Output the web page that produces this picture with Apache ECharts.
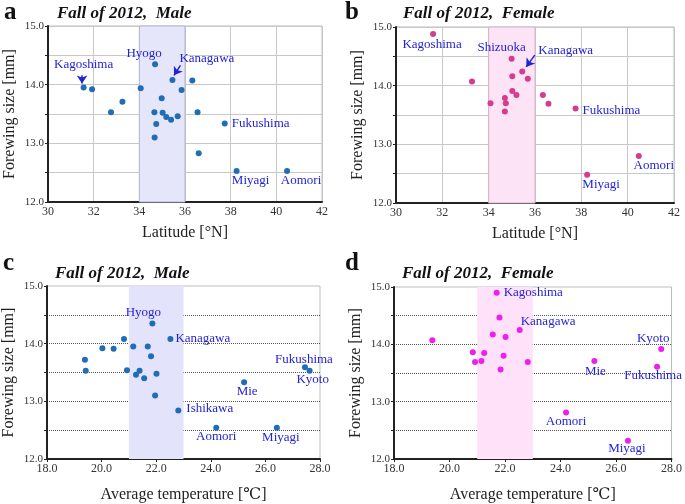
<!DOCTYPE html>
<html><head><meta charset="utf-8">
<script src="https://cdn.jsdelivr.net/npm/echarts@6/dist/echarts.min.js"></script>
<style>html,body{margin:0;padding:0;background:#fff}#c{width:685px;height:504px}</style>
</head><body><div id="c"></div>
<script>
// ---- data ----
const latTicksX = [30, 32, 34, 36, 38, 40, 42];
const tempTicksX = [18, 20, 22, 24, 26, 28];
const sizeTicksY = [12, 13, 14, 15];

const maleLatitude = [[31.56,13.95],[31.93,13.92],[32.76,13.53],[33.26,13.71],[34.06,13.94],[34.69,14.35],[34.66,13.53],[34.74,13.33],[34.67,13.10],[34.98,13.77],[35.02,13.52],[35.18,13.45],[35.39,13.40],[35.68,13.46],[35.45,14.08],[35.85,13.91],[36.32,14.07],[36.55,13.53],[36.60,12.83],[37.74,13.34],[38.26,12.53],[40.47,12.53]];
const maleLatitudeNames = ['Kagoshima','','','','','Hyogo','','','','','','','','','Kanagawa','','','','','Fukushima','Miyagi','Aomori'];

const femaleLatitude = [[31.60,14.88],[33.28,14.07],[34.08,13.70],[34.70,13.79],[34.74,13.70],[34.70,13.56],[34.99,14.46],[35.02,13.91],[35.20,13.84],[35.02,14.16],[35.45,14.24],[35.69,14.12],[36.34,13.84],[36.58,13.69],[37.75,13.61],[38.25,12.48],[40.48,12.80]];
const femaleLatitudeNames = ['Kagoshima','','','','','','Shizuoka','','','','Kanagawa','','','','Fukushima','Miyagi','Aomori'];

const maleTemperature = [[19.39,13.72],[19.42,13.53],[20.03,13.92],[20.44,13.91],[20.82,14.08],[20.93,13.54],[21.16,13.95],[21.26,13.46],[21.39,13.53],[21.56,13.40],[21.69,13.95],[21.81,13.78],[21.86,14.35],[21.96,13.10],[22.01,13.48],[22.52,14.08],[22.81,12.84],[24.20,12.54],[25.22,13.33],[26.42,12.54],[27.45,13.59],[27.62,13.53]];
const maleTemperatureNames = ['','','','','','','','','','','','','Hyogo','','','Kanagawa','Ishikawa','Aomori','Mie','Miyagi','Fukushima','Kyoto'];

const femaleTemperature = [[19.38,14.07],[20.84,13.86],[20.92,13.69],[21.15,13.71],[21.25,13.85],[21.56,14.17],[21.70,14.90],[21.80,14.47],[21.84,13.56],[21.95,13.80],[22.02,14.13],[22.53,14.25],[22.82,13.69],[24.20,12.81],[25.22,13.71],[26.43,12.32],[27.48,13.61],[27.63,13.92]];
const femaleTemperatureNames = ['','','','','','','Kagoshima','','','','','Kanagawa','','Aomori','Mie','Miyagi','Fukushima','Kyoto'];

const latitudeBand = [34, 36];
const temperatureBand = [21, 23];

const arrowsMaleLatitude = [[[31.49,14.16],[31.49,14.02]],[[35.80,14.33],[35.52,14.16]]];
const arrowsFemaleLatitude = [[[35.99,14.52],[35.62,14.32]]];

// ---- styles ----
const SERIF = '"Liberation Serif","DejaVu Serif",serif';
const LBL = '#2323d6';
const labelPos = {
  a: {Kagoshima:[0,-23,'center'], Hyogo:[-11,-11,'center'], Kanagawa:[7,-21,'left'], Fukushima:[7,0,'left'], Miyagi:[14,10,'center'], Aomori:[14,10,'center']},
  b: {Kagoshima:[-1,11,'center'], Shizuoka:[-10,-11,'center'], Kanagawa:[16,-21,'left'], Fukushima:[7,2,'left'], Miyagi:[14,10,'center'], Aomori:[15,10,'center']},
  c: {Hyogo:[-9,-11,'center'], Kanagawa:[5,0,'left'], Fukushima:[-1,-8,'center'], Kyoto:[3,9,'center'], Mie:[3,9,'center'], Ishikawa:[8,-2,'left'], Aomori:[0,9,'center'], Miyagi:[4,10,'center']},
  d: {Kagoshima:[7,0,'left'], Kanagawa:[1,-8,'left'], Kyoto:[-8,-10,'center'], Mie:[1,11,'center'], Fukushima:[-4,9,'center'], Aomori:[0,9,'center'], Miyagi:[-1,8,'center']}
};

function points(data, names, key) {
  return data.map((p, i) => {
    const n = names[i];
    if (!n) return {value: p};
    const s = labelPos[key][n];
    return {value: p, name: n, label: {show: true, formatter: n, position: 'inside', offset: [s[0], s[1]], align: s[2], verticalAlign: 'middle', color: LBL, fontFamily: SERIF, fontSize: 13}};
  });
}

const grids = [
  {left: 48, top: 26, width: 274, height: 176},
  {left: 396, top: 27, width: 278, height: 176},
  {left: 46, top: 286, width: 274, height: 175},
  {left: 394, top: 287, width: 278, height: 175}
].map(g => Object.assign(g, {show: true, borderColor: '#bdbdbd', borderWidth: 1, containLabel: false}));

function xAxis(i, ticks, name, gap, lat) {
  return {
    type: 'value', gridIndex: i, min: ticks[0], max: ticks[ticks.length-1], interval: 2,
    name: name, nameLocation: 'middle', nameGap: gap,
    nameTextStyle: {fontFamily: SERIF, fontSize: 16, color: '#222'},
    axisLine: {show: true, onZero: false, lineStyle: {color: '#222', width: 2}},
    axisTick: {show: !lat, length: 3, lineStyle: {color: '#222'}},
    axisLabel: {fontFamily: SERIF, fontSize: 12, color: '#333', margin: 4, formatter: v => lat ? String(v) : v.toFixed(1)},
    splitLine: {show: lat, lineStyle: {color: '#c8c8c8', width: 1}}
  };
}
function yAxis(i, lat) {
  return {
    type: 'value', gridIndex: i, min: sizeTicksY[0], max: sizeTicksY[sizeTicksY.length-1], interval: 0.5,
    name: 'Forewing size [mm]', nameLocation: 'middle', nameGap: 30, nameRotate: 90,
    nameTextStyle: {fontFamily: SERIF, fontSize: 16, color: '#222'},
    axisLine: {show: true, onZero: false, lineStyle: {color: '#222', width: 2}},
    axisTick: {show: true, length: 3, lineStyle: {color: '#222'}, interval: 0},
    axisLabel: {fontFamily: SERIF, fontSize: 11, color: '#333', margin: 4,
      formatter: v => sizeTicksY.indexOf(v) >= 0 ? v.toFixed(1) : ''},
    splitLine: lat ? {show: true, lineStyle: {color: '#c8c8c8', width: 1}}
                   : {show: true, showMinLine: false, showMaxLine: false, lineStyle: {color: '#555', width: 1, type: 'dotted'}}
  };
}

function arrowLines(arr) {
  return {silent: true, symbol: ['none', 'arrow'], symbolSize: 8, label: {show: false},
    lineStyle: {color: LBL, width: 1.5, type: 'solid'},
    itemStyle: {color: LBL},
    emphasis: {disabled: true},
    data: arr.map(a => [{coord: a[0]}, {coord: a[1]}])};
}
function band(range, fill, border) {
  return {silent: true, itemStyle: {color: fill, borderColor: border, borderWidth: border ? 1 : 0},
    data: [[{xAxis: range[0]}, {xAxis: range[1]}]]};
}

const option = {
  animation: false,
  backgroundColor: '#fff',
  grid: grids,
  xAxis: [
    xAxis(0, latTicksX, 'Latitude [°N]', 23, true),
    xAxis(1, latTicksX, 'Latitude [°N]', 23, true),
    xAxis(2, tempTicksX, 'Average temperature [℃]', 28, false),
    xAxis(3, tempTicksX, 'Average temperature [℃]', 28, false)
  ],
  yAxis: [yAxis(0, true), yAxis(1, true), yAxis(2, false), yAxis(3, false)],
  series: [
    {type: 'scatter', xAxisIndex: 0, yAxisIndex: 0, symbolSize: 6, itemStyle: {color: '#1f6db4', opacity: 1},
      data: points(maleLatitude, maleLatitudeNames, 'a'),
      markArea: band(latitudeBand, '#e6e6fb', '#b4b4d4'), markLine: arrowLines(arrowsMaleLatitude)},
    {type: 'scatter', xAxisIndex: 1, yAxisIndex: 1, symbolSize: 6, itemStyle: {color: '#d63c8e', opacity: 1},
      data: points(femaleLatitude, femaleLatitudeNames, 'b'),
      markArea: band(latitudeBand, '#fde3f6', '#d4b4c8'), markLine: arrowLines(arrowsFemaleLatitude)},
    {type: 'scatter', xAxisIndex: 2, yAxisIndex: 2, symbolSize: 6, itemStyle: {color: '#1f6db4', opacity: 1},
      data: points(maleTemperature, maleTemperatureNames, 'c'),
      markArea: band(temperatureBand, '#e3e3fc', null)},
    {type: 'scatter', xAxisIndex: 3, yAxisIndex: 3, symbolSize: 6, itemStyle: {color: '#ec1fec', opacity: 1},
      data: points(femaleTemperature, femaleTemperatureNames, 'd'),
      markArea: band(temperatureBand, '#ffe1fa', null)}
  ],
  graphic: [
    {type: 'text', left: 4, top: 0, style: {text: 'a', font: 'bold 25px ' + SERIF, fill: '#111'}},
    {type: 'text', left: 345, top: 0, style: {text: 'b', font: 'bold 25px ' + SERIF, fill: '#111'}},
    {type: 'text', left: 3, top: 251, style: {text: 'c', font: 'bold 25px ' + SERIF, fill: '#111'}},
    {type: 'text', left: 345, top: 251, style: {text: 'd', font: 'bold 25px ' + SERIF, fill: '#111'}},
    {type: 'text', left: 57, top: 5, style: {text: 'Fall of 2012,  Male', font: 'italic bold 17px ' + SERIF, fill: '#111'}},
    {type: 'text', left: 403, top: 5, style: {text: 'Fall of 2012,  Female', font: 'italic bold 17px ' + SERIF, fill: '#111'}},
    {type: 'text', left: 55, top: 265, style: {text: 'Fall of 2012,  Male', font: 'italic bold 17px ' + SERIF, fill: '#111'}},
    {type: 'text', left: 402, top: 265, style: {text: 'Fall of 2012,  Female', font: 'italic bold 17px ' + SERIF, fill: '#111'}}
  ]
};
const chart = echarts.init(document.getElementById('c'), null, {renderer: 'canvas'});
chart.setOption(option);
</script></body></html>
